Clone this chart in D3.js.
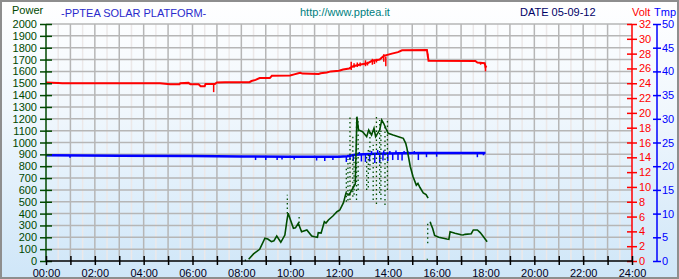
<!DOCTYPE html>
<html>
<head>
<meta charset="utf-8">
<script src="https://cdn.jsdelivr.net/npm/d3@7"></script>
<style>
  body { margin: 0; background: #fff; }
  svg text { font-family: "Liberation Sans", Arial, sans-serif; }
</style>
</head>
<body>
<div id="chart"></div>
<script>
// header texts
const titleTexts = ['Power', '-PPTEA SOLAR PLATFORM-', 'http://www.pptea.it', 'DATE 05-09-12', 'Volt', 'Tmp'];

// time axis: hours, labels every 2h
const hourTicks = d3.range(0, 25, 1);
const hourLabels = d3.range(0, 25, 2).map(h => String(h).padStart(2, '0') + ':00');

// battery voltage (Volt axis) [time, V]
const voltSeries = [
  ['00:00', 24.1], ['00:30', 24.05], ['00:40', 24.0], ['04:40', 24.0], ['05:05', 23.85],
  ['05:28', 23.85], ['05:30', 24.0], ['05:50', 24.05], ['05:55', 23.85], ['06:15', 23.85],
  ['06:20', 23.6], ['06:30', 23.6], ['06:32', 23.9], ['06:55', 23.9], ['07:00', 24.1],
  ['07:20', 24.15], ['08:20', 24.15], ['08:25', 24.3], ['08:35', 24.45], ['08:45', 24.7],
  ['09:10', 24.7], ['09:15', 25.0], ['10:00', 25.05], ['10:10', 25.2], ['10:20', 25.35],
  ['10:25', 25.4], ['10:30', 25.3], ['11:10', 25.25], ['11:15', 25.35], ['11:30', 25.45],
  ['11:40', 25.6], ['12:00', 25.7], ['12:10', 25.85], ['12:25', 26.0], ['12:35', 26.3],
  ['12:50', 26.5], ['13:10', 26.7], ['13:20', 27.0], ['13:40', 27.2], ['13:50', 27.7],
  ['14:10', 28.0], ['14:25', 28.2], ['14:35', 28.45], ['15:36', 28.5], ['15:40', 27.05],
  ['17:35', 27.0], ['17:40', 26.8], ['17:58', 26.7], ['18:00', 26.2], ['18:03', 26.3]
];
// voltage noise [time, from, to]
const voltSpikes = [
  ['06:52', 23.9, 22.8], ['12:30', 26.9, 25.8], ['12:37', 26.7, 26.1], ['12:45', 26.8, 26.2],
  ['12:52', 26.8, 26.3], ['13:05', 27.1, 26.3], ['13:10', 26.9, 26.4], ['13:22', 27.3, 26.5],
  ['13:27', 27.2, 26.6], ['13:32', 27.3, 26.8], ['13:50', 27.9, 26.9], ['13:55', 27.6, 26.3],
  ['15:38', 28.0, 27.5], ['17:48', 26.8, 26.5], ['18:00', 26.3, 25.6]
];

// PV power (Power axis) [time, W], null = gap
const powerSeries = [
  ['08:18', 14], ['08:30', 60], ['08:45', 99], ['08:58', 192], ['09:05', 185], ['09:14', 163],
  ['09:20', 170], ['09:27', 211], ['09:37', 158], ['09:47', 219], ['09:52', 340], ['09:55', 403],
  ['10:08', 276], ['10:13', 280], ['10:20', 318], ['10:28', 247], ['10:41', 262], ['10:53', 211],
  ['11:00', 205], ['11:07', 200], ['11:09', 239], ['11:16', 235], ['11:24', 332], ['11:28', 320],
  ['11:34', 346], ['11:45', 380], ['11:55', 416], ['12:02', 430], ['12:11', 492], ['12:17', 571],
  ['12:25', 560], ['12:40', 650], ['12:44', 1218], ['12:48', 1105], ['12:58', 1091], ['13:08', 1049],
  ['13:13', 1105], ['13:20', 1063], ['13:26', 1120], ['13:30', 1049], ['13:40', 1105], ['13:45', 1190],
  ['13:50', 1160], ['13:55', 1120], ['14:01', 1077], ['14:13', 1063], ['14:26', 1049], ['14:38', 1035],
  ['14:44', 993], ['14:47', 951], ['14:55', 800], ['15:02', 711], ['15:10', 640], ['15:14', 655],
  ['15:19', 620], ['15:27', 575], ['15:34', 560], ['15:39', 530],
  ['15:41', null],
  ['15:44', 332], ['15:46', 310], ['15:50', 276], ['15:55', 215], ['16:05', 200], ['16:25', 185],
  ['16:30', 183], ['16:33', 247], ['16:45', 235], ['17:00', 222], ['17:05', 219], ['17:10', 225],
  ['17:25', 230], ['17:30', 262], ['17:40', 262], ['17:47', 240], ['17:55', 205], ['18:04', 163]
];
// power scatter streaks [time, from, to]
const powerSpikes = [
  ['08:10', 0, 12], ['09:53', 400, 560], ['10:22', 320, 380], ['12:18', 500, 800], ['12:22', 510, 860],
  ['12:27', 515, 1218], ['12:34', 543, 1063], ['12:37', 560, 900], ['12:43', 515, 1215],
  ['12:47', 600, 1180], ['13:08', 599, 880], ['13:12', 620, 960], ['13:16', 768, 1105],
  ['13:24', 515, 980], ['13:32', 480, 1223], ['13:40', 574, 1190], ['13:43', 520, 1100],
  ['13:53', 473, 1147], ['13:59', 600, 1190], ['15:37', 10, 20], ['15:38', 150, 330]
];

// temperature (Tmp axis) [time, C]
const tempSeries = [
  ['00:00', 22.3], ['03:00', 22.2], ['06:00', 22.15], ['08:00', 22.05], ['10:00', 22.0],
  ['12:00', 22.0], ['12:20', 22.1], ['12:40', 22.4], ['13:00', 22.5], ['13:30', 22.65],
  ['14:30', 22.75], ['15:20', 22.8], ['18:00', 22.8]
];
// temperature noise [time, from, to]
const tempSpikes = [
  ['00:59', 22.3, 21.8], ['08:35', 22.0, 21.3], ['09:00', 22.0, 21.3], ['09:28', 22.0, 21.3],
  ['09:40', 22.0, 21.4], ['10:10', 22.0, 21.4], ['11:05', 21.95, 21.2], ['11:25', 21.95, 21.1],
  ['11:45', 21.95, 21.3], ['12:18', 22.1, 20.9], ['12:27', 22.2, 21.3], ['12:35', 22.3, 21.1],
  ['12:55', 22.5, 21.0], ['13:05', 22.5, 20.9], ['13:15', 22.6, 21.0], ['13:28', 22.6, 20.7],
  ['13:40', 22.7, 20.7], ['13:48', 22.7, 21.2], ['14:00', 22.7, 21.1], ['14:12', 22.7, 21.3],
  ['14:25', 22.75, 21.3], ['14:35', 22.75, 21.2], ['15:15', 22.8, 21.3], ['15:35', 22.8, 21.9],
  ['16:00', 22.8, 22.0], ['17:40', 22.8, 21.9], ['17:55', 22.8, 22.3],
  ['12:50', 22.4, 23.0], ['13:20', 22.6, 23.2], ['13:35', 22.65, 23.4], ['13:50', 22.7, 23.3],
  ['14:05', 22.7, 23.2], ['14:20', 22.75, 23.3], ['14:40', 22.75, 23.2], ['14:50', 22.8, 23.1],
  ['15:05', 22.8, 23.2]
];

const width = 679;
const height = 279;
const plot = { left: 46, right: 632, top: 24, bottom: 261 };

const hours = s => {
  const [h, m] = s.split(':').map(Number);
  return h + m / 60;
};

const x = d3.scaleLinear().domain([0, 24]).range([plot.left, plot.right]);
const yPower = d3.scaleLinear().domain([0, 2000]).range([plot.bottom, plot.top]);
const yVolt = d3.scaleLinear().domain([0, 32]).range([plot.bottom, plot.top]);
const yTemp = d3.scaleLinear().domain([0, 50]).range([plot.bottom, plot.top]);

const svg = d3.select('#chart')
  .append('svg')
    .attr('width', width)
    .attr('height', height);

const grad = svg.append('defs')
  .append('linearGradient')
    .attr('id', 'bg')
    .attr('x1', 0).attr('y1', 0)
    .attr('x2', 0).attr('y2', 1);
grad.append('stop').attr('offset', 0).attr('stop-color', '#ffffff');
grad.append('stop').attr('offset', 0.4).attr('stop-color', '#f0f7fd');
grad.append('stop').attr('offset', 1).attr('stop-color', '#cfe6f8');

svg.append('rect')
    .attr('x', 1).attr('y', 1)
    .attr('width', width - 2).attr('height', height - 2)
    .attr('fill', 'url(#bg)')
    .attr('stroke', '#8e8e8e')
    .attr('stroke-width', 2);

// grid
const grid = svg.append('g').attr('id', 'grid');
grid.selectAll('.vhalf')
  .data(d3.range(0.5, 24, 1))
  .join('line')
    .attr('class', 'vhalf')
    .attr('x1', d => x(d)).attr('x2', d => x(d))
    .attr('y1', plot.top).attr('y2', plot.bottom)
    .attr('stroke', '#ece8e8')
    .attr('stroke-width', 1.5);
grid.selectAll('.vhour')
  .data(d3.range(1, 24, 1))
  .join('line')
    .attr('class', 'vhour')
    .attr('x1', d => x(d)).attr('x2', d => x(d))
    .attr('y1', plot.top).attr('y2', plot.bottom)
    .attr('stroke', '#b6b6b6')
    .attr('stroke-width', 1.5);
grid.selectAll('.hline')
  .data(d3.range(100, 2001, 100))
  .join('line')
    .attr('class', 'hline')
    .attr('x1', plot.left).attr('x2', plot.right)
    .attr('y1', d => yPower(d)).attr('y2', d => yPower(d))
    .attr('stroke', '#b6b6b6')
    .attr('stroke-width', 1.5);

// series
const lineOf = y => d3.line()
    .defined(d => d[1] !== null)
    .x(d => x(hours(d[0])))
    .y(d => y(d[1]));

const spikes = (cls, data, y, color, w, dash) => svg.append('g')
  .selectAll('line')
  .data(data)
  .join('line')
    .attr('class', cls)
    .attr('x1', d => x(hours(d[0]))).attr('x2', d => x(hours(d[0])))
    .attr('y1', d => y(d[1])).attr('y2', d => y(d[2]))
    .attr('stroke', color)
    .attr('stroke-width', w)
    .attr('stroke-dasharray', dash);

svg.append('path')
    .datum(voltSeries)
    .attr('fill', 'none')
    .attr('stroke', '#ff0000')
    .attr('stroke-width', 2)
    .attr('d', lineOf(yVolt));
spikes('vspike', voltSpikes, yVolt, '#ff0000', 1.5, null);

svg.append('path')
    .datum(tempSeries)
    .attr('fill', 'none')
    .attr('stroke', '#0000ff')
    .attr('stroke-width', 2.5)
    .attr('d', lineOf(yTemp));
spikes('tspike', tempSpikes, yTemp, '#0000ff', 1.5, null);

svg.append('path')
    .datum(powerSeries)
    .attr('fill', 'none')
    .attr('stroke', '#004d00')
    .attr('stroke-width', 1.6)
    .attr('d', lineOf(yPower));
spikes('pspike', powerSpikes, yPower, '#004d00', 1.3, '1.5,3');

// axes
const crossTicks = (g, half) => g.selectAll('.tick line')
    .attr('x1', -half).attr('x2', half);
const fmt = d3.format('d');

svg.append('g')
    .attr('transform', `translate(${plot.left},0)`)
    .call(d3.axisLeft(yPower).tickValues(d3.range(0, 2001, 100)).tickFormat(fmt).tickSize(6).tickPadding(3))
    .call(g => crossTicks(g, 6))
    .call(g => g.select('.domain').attr('d', `M0,${plot.top}V${plot.bottom}`))
    .call(g => g.selectAll('path, line').attr('stroke', '#004800').attr('stroke-width', 1.5))
    .call(g => g.selectAll('text').attr('fill', '#004800').attr('font-size', 11)
        .attr('font-family', '"Liberation Sans", Arial, sans-serif'));

svg.append('g')
    .attr('transform', `translate(${plot.right},0)`)
    .call(d3.axisRight(yVolt).tickValues(d3.range(0, 33, 2)).tickFormat(fmt).tickSize(5).tickPadding(2))
    .call(g => crossTicks(g, 5))
    .call(g => g.select('.domain').attr('d', `M0,${plot.top}V${plot.bottom}`))
    .call(g => g.selectAll('path, line').attr('stroke', '#ff0000').attr('stroke-width', 1.5))
    .call(g => g.selectAll('text').attr('fill', '#ff0000').attr('font-size', 11)
        .attr('font-family', '"Liberation Sans", Arial, sans-serif'));

svg.append('g')
    .attr('transform', `translate(657,0)`)
    .call(d3.axisRight(yTemp).tickValues(d3.range(0, 51, 5)).tickFormat(fmt).tickSize(4).tickPadding(1))
    .call(g => crossTicks(g, 4))
    .call(g => g.select('.domain').attr('d', `M0,${plot.top}V${plot.bottom}`))
    .call(g => g.selectAll('path, line').attr('stroke', '#0000ff').attr('stroke-width', 1.5))
    .call(g => g.selectAll('text').attr('fill', '#0000ff').attr('font-size', 11)
        .attr('font-family', '"Liberation Sans", Arial, sans-serif'));

svg.append('g')
    .attr('transform', `translate(0,${plot.bottom})`)
    .call(d3.axisBottom(x).tickValues(hourTicks).tickSize(4).tickPadding(4)
        .tickFormat(d => d % 2 === 0 ? hourLabels[d / 2] : ''))
    .call(g => g.selectAll('.tick line').attr('y1', -5).attr('y2', 4))
    .call(g => g.select('.domain').attr('d', `M${plot.left},0H${plot.right}`))
    .call(g => g.selectAll('path, line').attr('stroke', '#000000').attr('stroke-width', 1.5))
    .call(g => g.selectAll('text').attr('fill', '#000020').attr('font-size', 11)
        .attr('font-family', '"Liberation Sans", Arial, sans-serif'));

// header
const header = [
  { x: 12, y: 14, color: '#004800' },
  { x: 61, y: 16.5, color: '#2a2acc' },
  { x: 300, y: 16, color: '#008080' },
  { x: 520, y: 16, color: '#000066' },
  { x: 632, y: 15.5, color: '#ff0000' },
  { x: 654, y: 15.5, color: '#0000ff' }
];
svg.append('g')
  .selectAll('text')
  .data(titleTexts)
  .join('text')
    .attr('x', (d, i) => header[i].x)
    .attr('y', (d, i) => header[i].y)
    .attr('fill', (d, i) => header[i].color)
    .attr('font-size', 11)
    .text(d => d);
</script>
</body>
</html>
